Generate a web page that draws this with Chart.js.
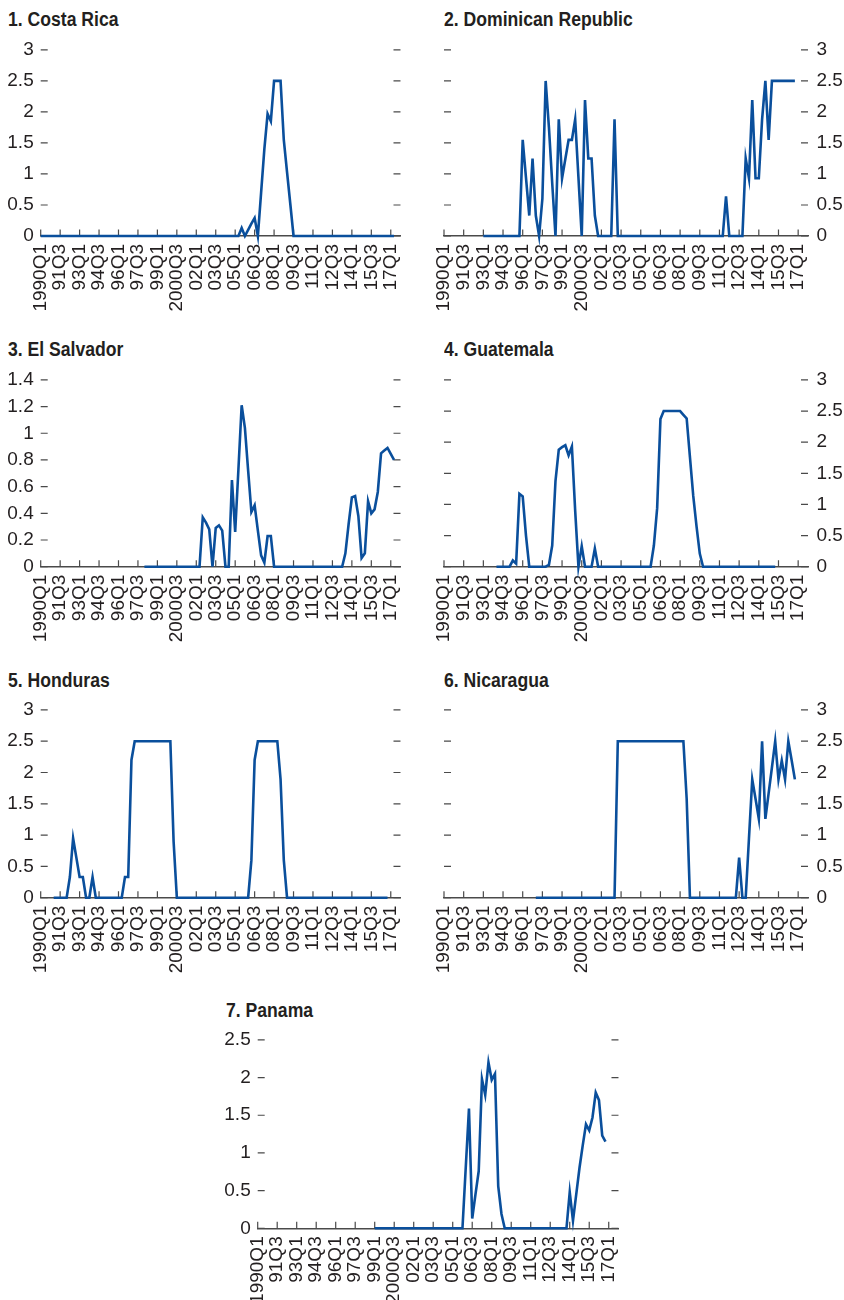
<!DOCTYPE html>
<html>
<head>
<meta charset="utf-8">
<script src="https://cdn.jsdelivr.net/npm/chart.js@4.4.0/dist/chart.umd.min.js"></script>
<style>
  html, body { margin: 0; padding: 0; background: #fff; }
  #page { position: relative; width: 844px; height: 1300px; overflow: hidden; }
  #page canvas { position: absolute; }
  .title {
    position: absolute; white-space: nowrap; color: #231f20;
    font: bold 20px 'Liberation Sans', Arial, sans-serif;
    line-height: 20px;
    transform: scaleX(0.88); transform-origin: left top;
  }
</style>
</head>
<body>
<div id="page"></div>
<script>
/* ── Data ─────────────────────────────────────── */
const N = null;

// quarters 1990Q1 .. 2017Q4
const quarters = [];
for (let y = 1990; y <= 2017; y++) for (let q = 1; q <= 4; q++) quarters.push(y + 'Q' + q);

// one label every 6 quarters
const tickLabels = ['1990Q1', '91Q3', '93Q1', '94Q3', '96Q1', '97Q3', '99Q1', '2000Q3', '02Q1',
  '03Q3', '05Q1', '06Q3', '08Q1', '09Q3', '11Q1', '12Q3', '14Q1', '15Q3', '17Q1'];

const yTicks3 = [0, 0.5, 1, 1.5, 2, 2.5, 3];
const yTicksSalvador = [0, 0.2, 0.4, 0.6, 0.8, 1, 1.2, 1.4];
const yTicksPanama = [0, 0.5, 1, 1.5, 2, 2.5];

const costaRica = [
  0, 0, 0, 0,  0, 0, 0, 0,  0, 0, 0, 0,  0, 0, 0, 0,                          // 1990-93
  0, 0, 0, 0,  0, 0, 0, 0,  0, 0, 0, 0,  0, 0, 0, 0,                          // 1994-97
  0, 0, 0, 0,  0, 0, 0, 0,  0, 0, 0, 0,  0, 0, 0, 0,                          // 1998-2001
  0, 0, 0, 0,  0, 0, 0, 0,  0, 0, 0, 0,  0, 0, 0.13, 0,                       // 2002-05
  0.1, 0.2, 0.29, 0,  0.7, 1.4, 1.97, 1.85,  2.5, 2.5, 2.5, 1.55,  1.03, 0.52, 0, 0, // 2006-09
  0, 0, 0, 0,  0, 0, 0, 0,  0, 0, 0, 0,  0, 0, 0, 0,                          // 2010-13
  0, 0, 0, 0,  0, 0, 0, 0,  0, 0, 0, 0,  0, 0, N, N                           // 2014-17
];

const dominican = [
  N, N, N, N,  N, N, N, N,  N, N, N, N,  0, 0, 0, 0,
  0, 0, 0, 0,  0, 0, 0, 0,  1.55, 0.94, 0.33, 1.25,  0.33, 0, 0.6, 2.5,
  1.75, 0.85, 0, 1.88,  0.93, 1.24, 1.55, 1.55,  1.88, 0.94, 0, 2.19,  1.25, 1.25, 0.33, 0,
  0, 0, 0, 0,  1.88, 0, 0, 0,  0, 0, 0, 0,  0, 0, 0, 0,
  0, 0, 0, 0,  0, 0, 0, 0,  0, 0, 0, 0,  0, 0, 0, 0,
  0, 0, 0, 0,  0, 0, 0.64, 0,  0, 0, 0, 0,  1.25, 0.93, 2.19, 0.93,
  0.93, 1.88, 2.5, 1.55,  2.5, 2.5, 2.5, 2.5,  2.5, 2.5, 2.5, 2.5,  N, N, N, N
];

const elSalvador = [
  N, N, N, N,  N, N, N, N,  N, N, N, N,  N, N, N, N,
  N, N, N, N,  N, N, N, N,  N, N, N, N,  N, N, N, N,
  0, 0, 0, 0,  0, 0, 0, 0,  0, 0, 0, 0,  0, 0, 0, 0,
  0, 0, 0.37, 0.33,  0.28, 0, 0.29, 0.31,  0.27, 0, 0, 0.65,  0.26, 0.73, 1.21, 1.04,
  0.72, 0.41, 0.46, 0.27,  0.085, 0.03, 0.23, 0.23,  0, 0, 0, 0,  0, 0, 0, 0,
  0, 0, 0, 0,  0, 0, 0, 0,  0, 0, 0, 0,  0, 0, 0.1, 0.32,
  0.52, 0.53, 0.38, 0.065,  0.1, 0.49, 0.4, 0.43,  0.56, 0.85, 0.87, 0.89,  0.845, 0.8, N, N
];

const guatemala = [
  N, N, N, N,  N, N, N, N,  N, N, N, N,  N, N, N, N,
  0, 0, 0, 0,  0, 0.1, 0.05, 1.17,  1.13, 0.5, 0, 0,  0, 0, 0, 0,
  0.03, 0.34, 1.38, 1.88,  1.92, 1.95, 1.79, 1.93,  0.9, 0, 0.33, 0,  0, 0, 0.29, 0,
  0, 0, 0, 0,  0, 0, 0, 0,  0, 0, 0, 0,  0, 0, 0, 0,
  0.34, 0.94, 2.37, 2.5,  2.5, 2.5, 2.5, 2.5,  2.5, 2.44, 2.38, 1.76,  1.14, 0.65, 0.21, 0,
  0, 0, 0, 0,  0, 0, 0, 0,  0, 0, 0, 0,  0, 0, 0, 0,
  0, 0, 0, 0,  0, 0, N, N,  N, N, N, N,  N, N, N, N
];

const honduras = [
  N, N, N, N,  0, 0, 0, 0,  0, 0.33, 0.95, 0.64,  0.33, 0.33, 0, 0,
  0.33, 0, 0, 0,  0, 0, 0, 0,  0, 0, 0.33, 0.33,  2.2, 2.5, 2.5, 2.5,
  2.5, 2.5, 2.5, 2.5,  2.5, 2.5, 2.5, 2.5,  2.5, 0.9, 0, 0,  0, 0, 0, 0,
  0, 0, 0, 0,  0, 0, 0, 0,  0, 0, 0, 0,  0, 0, 0, 0,
  0, 0.6, 2.2, 2.5,  2.5, 2.5, 2.5, 2.5,  2.5, 2.5, 1.89, 0.6,  0, 0, 0, 0,
  0, 0, 0, 0,  0, 0, 0, 0,  0, 0, 0, 0,  0, 0, 0, 0,
  0, 0, 0, 0,  0, 0, 0, 0,  0, 0, 0, 0,  N, N, N, N
];

const nicaragua = [
  N, N, N, N,  N, N, N, N,  N, N, N, N,  N, N, N, N,
  N, N, N, N,  N, N, N, N,  N, N, N, N,  0, 0, 0, 0,
  0, 0, 0, 0,  0, 0, 0, 0,  0, 0, 0, 0,  0, 0, 0, 0,
  0, 0, 0, 0,  0, 2.5, 2.5, 2.5,  2.5, 2.5, 2.5, 2.5,  2.5, 2.5, 2.5, 2.5,
  2.5, 2.5, 2.5, 2.5,  2.5, 2.5, 2.5, 2.5,  2.5, 2.5, 1.58, 0,  0, 0, 0, 0,
  0, 0, 0, 0,  0, 0, 0, 0,  0, 0, 0.64, 0,  0, 0.95, 1.89, 1.58,
  1.26, 2.5, 1.26, 1.67,  2.08, 2.5, 1.89, 2.19,  1.89, 2.5, 2.2, 1.89,  N, N, N, N
];

const panama = [
  N, N, N, N,  N, N, N, N,  N, N, N, N,  N, N, N, N,
  N, N, N, N,  N, N, N, N,  N, N, N, N,  N, N, N, N,
  N, N, N, N,  0, 0, 0, 0,  0, 0, 0, 0,  0, 0, 0, 0,
  0, 0, 0, 0,  0, 0, 0, 0,  0, 0, 0, 0,  0, 0, 0, 0,
  0.8, 1.59, 0.13, 0.45,  0.76, 1.98, 1.77, 2.2,  1.97, 2.05, 0.56, 0.19,  0, 0, 0, 0,
  0, 0, 0, 0,  0, 0, 0, 0,  0, 0, 0, 0,  0, 0, 0, 0,
  0.48, 0.1, 0.45, 0.8,  1.1, 1.38, 1.3, 1.47,  1.8, 1.7, 1.23, 1.15,  N, N, N, N
];

/* ── Layout ───────────────────────────────────── */
// box = canvas [left, top, width, height]; area = plot [x0, y0, x1, y1]; t = title [left, baseline]
const panels = [
  { title: '1. Costa Rica',         data: costaRica,  ticks: yTicks3,        side: 'left',
    box: [0, 30, 422, 300],    area: [40.7, 43, 406, 236],        t: [8, 26] },
  { title: '2. Dominican Republic', data: dominican,  ticks: yTicks3,        side: 'right',
    box: [422, 30, 422, 300],  area: [444, 43, 808, 236],         t: [444, 26] },
  { title: '3. El Salvador',        data: elSalvador, ticks: yTicksSalvador, side: 'left',
    box: [0, 360, 422, 300],   area: [40.7, 374.3, 406, 566.7],   t: [8, 356] },
  { title: '4. Guatemala',          data: guatemala,  ticks: yTicks3,        side: 'right',
    box: [422, 360, 422, 300], area: [444, 374.3, 808, 566.7],    t: [444, 356] },
  { title: '5. Honduras',           data: honduras,   ticks: yTicks3,        side: 'left',
    box: [0, 690, 422, 300],   area: [40.7, 705.3, 406, 897.7],   t: [8, 687] },
  { title: '6. Nicaragua',          data: nicaragua,  ticks: yTicks3,        side: 'right',
    box: [422, 690, 422, 300], area: [444, 705.3, 808, 897.7],    t: [444, 687] },
  { title: '7. Panama',             data: panama,     ticks: yTicksPanama,   side: 'left',
    box: [210, 1020, 430, 280], area: [257.7, 1035.7, 622.7, 1228.3], t: [226, 1017] }
];

const BLUE = '#0a4f9c';
const INK = '#231f20';
const AXIS = '#4a4a4a';
const TICK_FONT = { family: "'Liberation Sans', Arial, sans-serif", size: 19 };

// short dashes inside the plot on both sides, small upward marks on the x axis
const innerTicks = {
  id: 'innerTicks',
  beforeDatasetsDraw(chart) {
    const { ctx, chartArea: a, scales } = chart;
    ctx.save();
    ctx.strokeStyle = AXIS;
    ctx.lineWidth = 1.2;
    ctx.beginPath();
    scales.yL.ticks.forEach(t => {
      const y = scales.yL.getPixelForValue(t.value);
      ctx.moveTo(a.left, y); ctx.lineTo(a.left + 7, y);
      ctx.moveTo(a.right - 7, y); ctx.lineTo(a.right, y);
    });
    scales.x.ticks.forEach(t => {
      const x = scales.x.getPixelForValue(t.value);
      ctx.moveTo(x, a.bottom); ctx.lineTo(x, a.bottom - 6.5);
    });
    ctx.stroke();
    ctx.restore();
  }
};

const page = document.getElementById('page');

panels.forEach(p => {
  const [L, T, W, H] = p.box;
  const [x0, y0, x1, y1] = p.area;

  const title = document.createElement('div');
  title.className = 'title';
  title.textContent = p.title;
  title.style.left = p.t[0] + 'px';
  title.style.top = (p.t[1] - 17) + 'px';
  page.appendChild(title);

  const canvas = document.createElement('canvas');
  canvas.width = W; canvas.height = H;
  canvas.style.left = L + 'px'; canvas.style.top = T + 'px';
  canvas.style.width = W + 'px'; canvas.style.height = H + 'px';
  page.appendChild(canvas);

  const yMax = p.ticks[p.ticks.length - 1];
  const yAxis = (pos, show) => ({
    type: 'linear', position: pos, min: 0, max: yMax,
    grid: { display: false, drawTicks: false },
    border: { display: false },
    afterBuildTicks: s => { s.ticks = p.ticks.map(v => ({ value: v })); },
    afterFit: s => { s.width = pos === 'left' ? x0 - L : L + W - x1; },
    ticks: {
      display: true, font: TICK_FONT, color: INK,
      padding: pos === 'left' ? 7 : 8.5,
      callback: v => show ? String(v) : ''
    }
  });

  new Chart(canvas, {
    type: 'line',
    data: {
      labels: quarters,
      datasets: [{
        data: p.data, yAxisID: 'yL',
        borderColor: BLUE, borderWidth: 2.6,
        pointRadius: 0, tension: 0, spanGaps: false, clip: false
      }]
    },
    options: {
      responsive: false, animation: false, devicePixelRatio: 1,
      layout: { padding: { top: y0 - T, left: 0, right: 0, bottom: 0 } },
      plugins: { legend: { display: false }, tooltip: { enabled: false } },
      scales: {
        x: {
          type: 'category', offset: false,
          grid: { display: false, drawTicks: false },
          border: { display: true, color: AXIS, width: 1.5 },
          afterBuildTicks: s => { s.ticks = s.ticks.filter(t => t.value % 6 === 0); },
          afterFit: s => { s.height = T + H - y1; },
          ticks: {
            autoSkip: false, minRotation: 90, maxRotation: 90, padding: 8,
            font: TICK_FONT, color: INK,
            callback: v => tickLabels[v / 6]
          }
        },
        yL: yAxis('left', p.side === 'left'),
        yR: yAxis('right', p.side === 'right')
      }
    },
    plugins: [innerTicks]
  });
});
</script>
</body>
</html>
